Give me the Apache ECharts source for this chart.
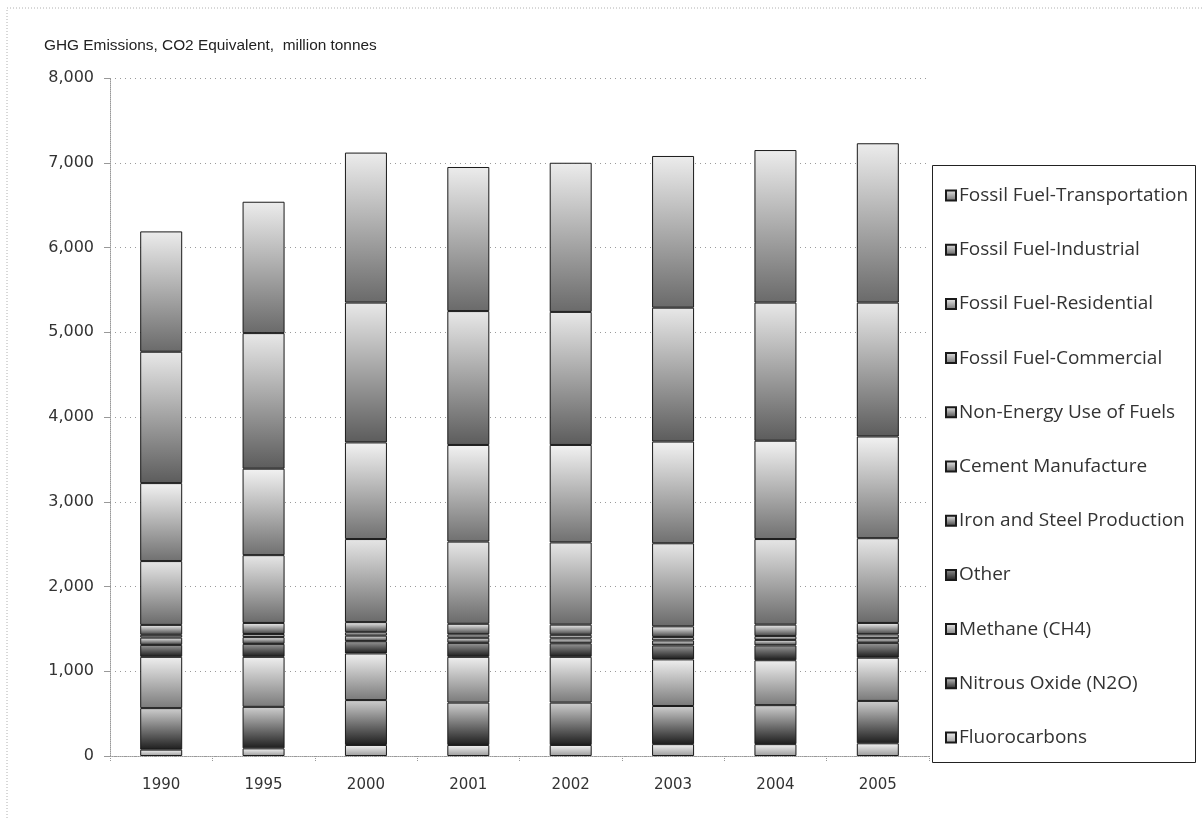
<!DOCTYPE html>
<html>
<head>
<meta charset="utf-8">
<script src="https://cdn.jsdelivr.net/npm/echarts@6/dist/echarts.min.js"></script>
<style>
html,body{margin:0;padding:0;background:#fff;}
#chart{width:1204px;height:820px;}
</style>
</head>
<body>
<div id="chart"></div>
<script>
// ---- Data (million tonnes CO2 equivalent) ----
const years = ['1990','1995','2000','2001','2002','2003','2004','2005'];
const yTicks = [0,1000,2000,3000,4000,5000,6000,7000,8000];

const fluorocarbons   = [75, 90, 130, 130, 130, 140, 140, 150];
const nitrousOxide    = [490, 490, 530, 500, 500, 450, 460, 500];
const methane         = [605, 590, 550, 540, 540, 550, 530, 510];
const other           = [141, 153, 145, 165, 160, 165, 175, 175];
const ironSteel       = [86, 80, 65, 60, 58, 58, 65, 55];
const cement          = [33, 37, 40, 40, 42, 42, 45, 45];
const nonEnergy       = [117, 130, 120, 125, 120, 125, 135, 135];
const ffCommercial    = [753, 800, 980, 970, 970, 980, 1010, 1000];
const ffResidential   = [920, 1020, 1140, 1140, 1150, 1200, 1160, 1200];
const ffIndustrial    = [1550, 1600, 1650, 1580, 1570, 1580, 1630, 1580];
const ffTransport     = [1420, 1550, 1770, 1700, 1760, 1790, 1800, 1880];

// stacking order bottom -> top
const seriesDefs = [
  {name:'Fluorocarbons', data:fluorocarbons, top:'#f4f4f4', bottom:'#9a9a9a'},
  {name:'Nitrous Oxide (N2O)', data:nitrousOxide, top:'#cfcfcf', bottom:'#1e1e1e'},
  {name:'Methane (CH4)', data:methane, top:'#efefef', bottom:'#7a7a7a'},
  {name:'Other', data:other, top:'#9a9a9a', bottom:'#1a1a1a'},
  {name:'Iron and Steel Production', data:ironSteel, top:'#f2f2f2', bottom:'#3a3a3a'},
  {name:'Cement Manufacture', data:cement, top:'#f4f4f4', bottom:'#555555'},
  {name:'Non-Energy Use of Fuels', data:nonEnergy, top:'#f2f2f2', bottom:'#404040'},
  {name:'Fossil Fuel-Commercial', data:ffCommercial, top:'#e6e6e6', bottom:'#6a6a6a'},
  {name:'Fossil Fuel-Residential', data:ffResidential, top:'#f2f2f2', bottom:'#707070'},
  {name:'Fossil Fuel-Industrial', data:ffIndustrial, top:'#e8e8e8', bottom:'#5c5c5c'},
  {name:'Fossil Fuel-Transportation', data:ffTransport, top:'#ececec', bottom:'#6a6a6a'}
];

const chart = echarts.init(document.getElementById('chart'), null, {renderer:'canvas'});

function fmt(v){ return String(v).replace(/\B(?=(\d{3})+(?!\d))/g, ','); }

const series = seriesDefs.map(d => ({
  name: d.name,
  type: 'bar',
  stack: 'total',
  barWidth: 42,
  data: d.data,
  itemStyle: {
    color: new echarts.graphic.LinearGradient(0,0,0,1,[
      {offset:0, color:d.top},
      {offset:1, color:d.bottom}
    ]),
    borderColor: '#1a1a1a',
    borderWidth: 1
  },
  emphasis: {disabled: true}
}));

const option = {
  animation: false,
  backgroundColor: '#ffffff',
  grid: {left: 110, right: 275, top: 78, bottom: 64, containLabel: false},
  graphic: [
    {type:'rect', shape:{x:7, y:8, width:1210, height:830}, silent:true,
     style:{fill:'none', stroke:'#b0b0b0', lineWidth:1, lineDash:[1,2]}},
    {type:'rect', shape:{x:932.5, y:165.5, width:263, height:597}, silent:true, z:5,
     style:{fill:'#ffffff', stroke:'#222', lineWidth:1}},
    {type:'text', left:44, top:38, silent:true,
     style:{text:'GHG Emissions, CO2 Equivalent,  million tonnes', font:'15.4px "Liberation Sans", Arial, sans-serif', fill:'#222'}}
  ],
  legend: {
    orient: 'vertical',
    left: 940,
    top: 181,
    itemGap: 35.2,
    itemWidth: 10,
    itemHeight: 10,
    icon: 'rect',
    z: 10,
    data: seriesDefs.map(d => d.name).reverse(),
    textStyle: {fontFamily:'"Open Sans", sans-serif', fontSize:19, color:'#333', padding:[0,0,0,-2]},
    selectedMode: false
  },
  xAxis: {
    type: 'category',
    data: years,
    axisLine: {show:true, lineStyle:{color:'#999', type:'dotted'}},
    axisTick: {show:true, length:6, lineStyle:{color:'#999', type:'dotted'}},
    axisLabel: {margin:22, fontFamily:'"DejaVu Sans", sans-serif', fontSize:15, color:'#333'}
  },
  yAxis: {
    type: 'value',
    min: 0,
    max: 8000,
    interval: 1000,
    axisLine: {show:true, lineStyle:{color:'#999', type:'dotted'}},
    axisTick: {show:true, length:6, lineStyle:{color:'#999'}},
    splitLine: {show:true, lineStyle:{color:'#9a9a9a', type:[1,4]}},
    axisLabel: {margin:16, fontFamily:'"DejaVu Sans", sans-serif', fontSize:16, color:'#333',
      formatter: v => yTicks.indexOf(v) >= 0 ? fmt(v) : ''}
  },
  series: series
};

chart.setOption(option);
</script>
</body>
</html>
